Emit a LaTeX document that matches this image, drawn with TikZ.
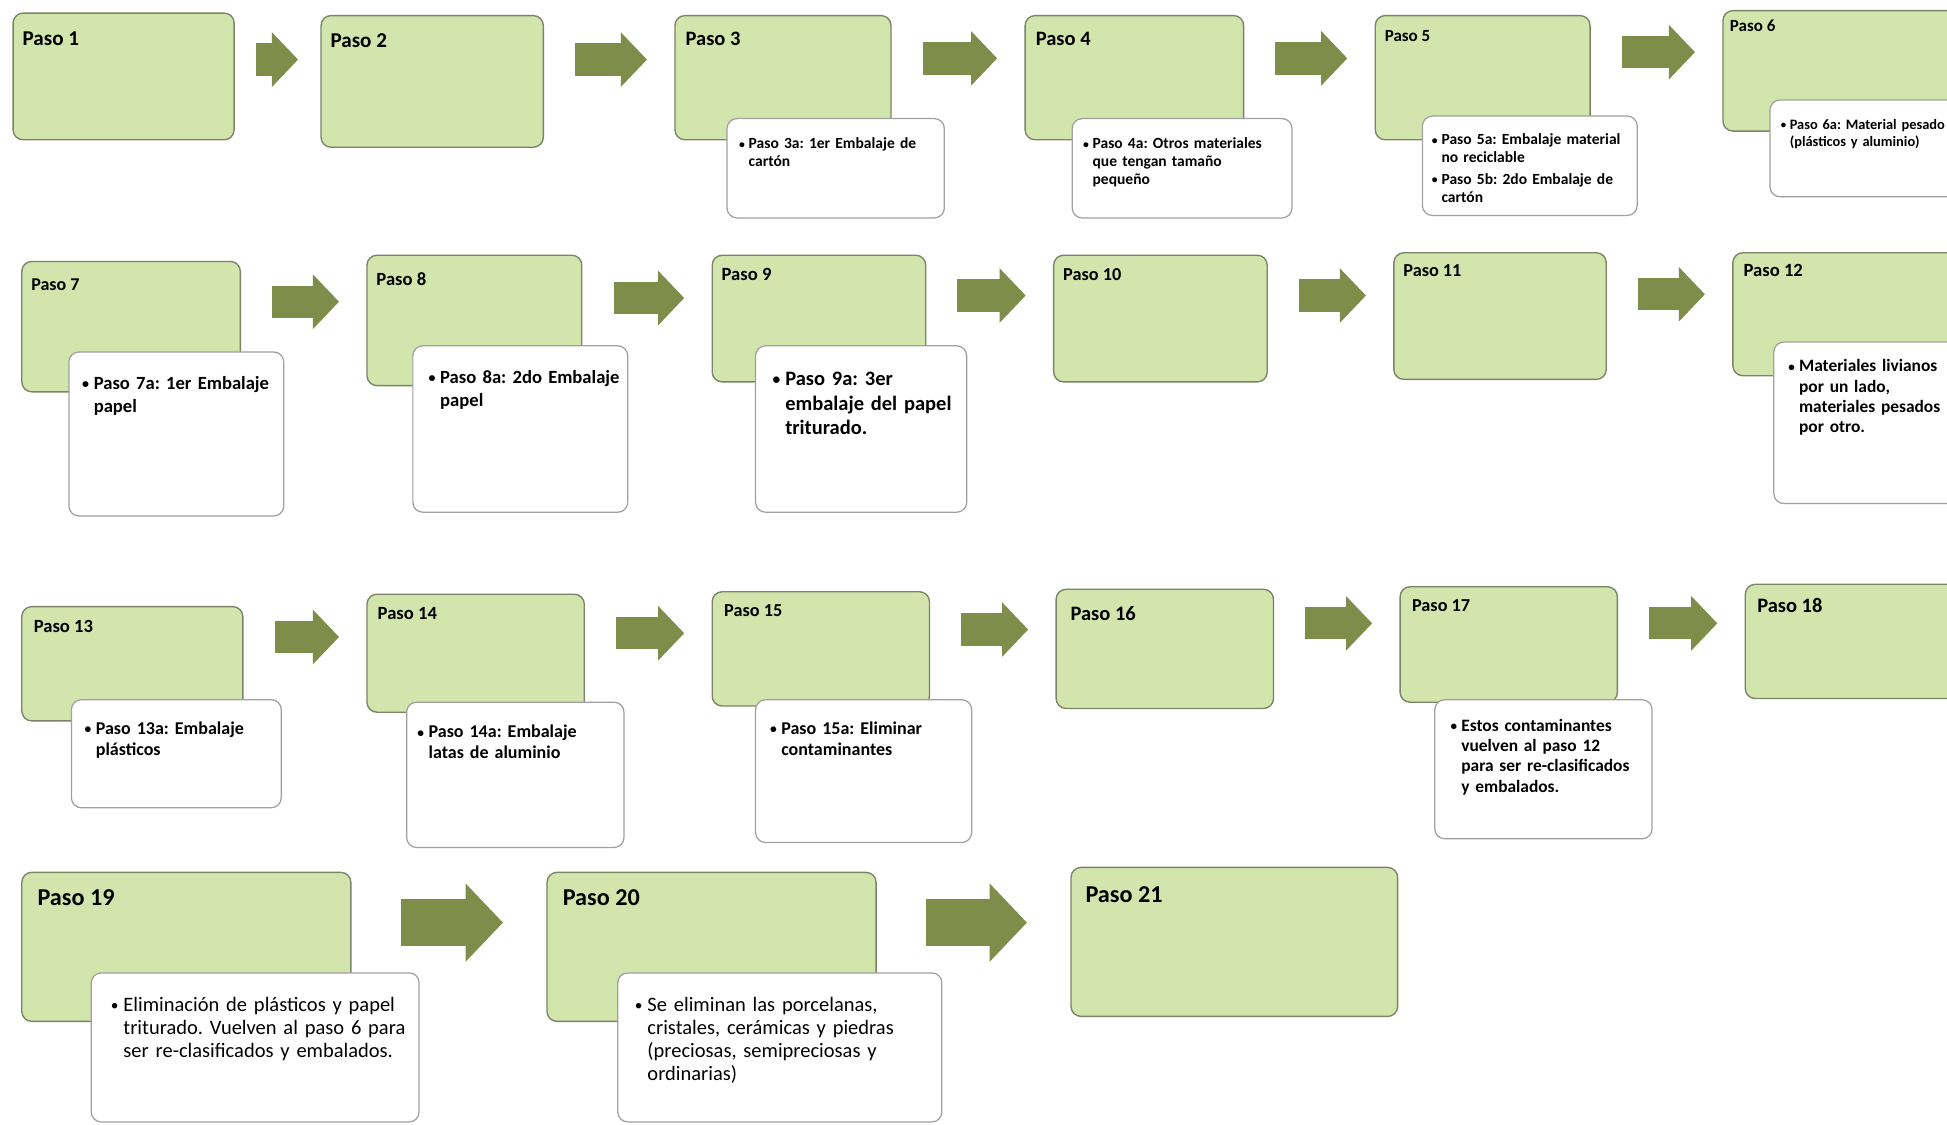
\documentclass[tikz,border=0pt]{standalone}
\usepackage{fontspec}
\setmainfont{Carlito}
\usepackage{graphicx}
\usepackage{tikz}
\usetikzlibrary{calc,arrows.meta}
\definecolor{boxgreen}{HTML}{D2E5AC}
\definecolor{boxline}{HTML}{7A8566}
\definecolor{subline}{HTML}{A0A0A0}
\definecolor{arrgreen}{HTML}{7F8D4A}
\frenchspacing
\newcommand{\itm}[1]{\par\noindent\makebox[0.62em][l]{\raisebox{0.04em}{\scalebox{0.75}{\textbullet}}}\begin{tabular}[t]{@{}l@{}}#1\end{tabular}\par}
\tikzstyle{stepbox}=[draw=boxline,fill=boxgreen,line width=1.1pt,rounded corners=8pt,anchor=north west,inner sep=0pt]
\tikzstyle{subbox}=[draw=subline,fill=white,line width=1pt,rounded corners=8pt,anchor=north west,inner sep=0pt]
\tikzstyle{blockarr}=[draw=arrgreen,line width=26pt,-{Triangle[width=44pt,length=21pt,line width=0pt]},shorten <=25pt,shorten >=22pt]
\tikzstyle{blockbig}=[draw=arrgreen,line width=38pt,-{Triangle[width=63pt,length=30pt,line width=0pt]},shorten <=40pt,shorten >=35pt]
\tikzset{pasolbl/.style={anchor=north west,inner sep=0pt,font=\fontsize{#1}{#1}\selectfont\bfseries},
  subtxt/.style n args={3}{anchor=north west,inner sep=0pt,align=left,text width=#1pt,font=\fontsize{#2}{#3}\selectfont\bfseries}}

\begin{document}
\begin{tikzpicture}[x=1pt,y=-1pt]
\path[fill=white] (0,0) rectangle (1568,906);
\useasboundingbox (0,0) rectangle (1568,906);
% fila 1
\node[stepbox,minimum width=178pt,minimum height=102pt] (p1) at (10,10) {};
\node[stepbox,minimum width=179pt,minimum height=106pt] (p2) at (258,12) {};
\node[stepbox,minimum width=174pt,minimum height=100pt] (p3) at (543,12) {};
\node[stepbox,minimum width=176pt,minimum height=100pt] (p4) at (825,12) {};
\node[stepbox,minimum width=173pt,minimum height=100pt] (p5) at (1107,12) {};
\node[stepbox,minimum width=220pt,minimum height=97pt] (p6) at (1387,8) {};
\node[pasolbl=17] (l1) at ([shift={(8,15)}]p1.north west) {Paso 1};
\node[pasolbl=17] (l2) at ([shift={(8,15)}]p2.north west) {Paso 2};
\node[pasolbl=16.5] (l3) at ([shift={(9,14)}]p3.north west) {Paso 3};
\node[pasolbl=16.5] (l4) at ([shift={(9,14)}]p4.north west) {Paso 4};
\node[pasolbl=13.7] (l5) at ([shift={(8,12)}]p5.north west) {Paso 5};
\node[pasolbl=13.7] (l6) at ([shift={(6,8)}]p6.north west) {Paso 6};
\node[subbox,minimum width=175pt,minimum height=80pt] (s3) at (585,95) {};
\node[subbox,minimum width=177pt,minimum height=80pt] (s4) at (863,95) {};
\node[subbox,minimum width=173pt,minimum height=80pt] (s5) at (1145,93) {};
\node[subbox,minimum width=200pt,minimum height=78pt] (s6) at (1425,80) {};
\node[subtxt={160}{12.5}{14.5}] (t3) at ([shift={(10,10)}]s3.north west) {\itm{Paso 3a: 1er Embalaje de\\cartón}};
\node[subtxt={165}{12.5}{14.5}] (t4) at ([shift={(9,10)}]s4.north west) {\itm{Paso 4a: Otros materiales\\que tengan tamaño\\pequeño}};
\node[subtxt={165}{12.5}{14.5}] (t5) at ([shift={(8,9)}]s5.north west) {\itm{Paso 5a: Embalaje material\\no reciclable}\vspace{1.5pt}\itm{Paso 5b: 2do Embalaje de\\cartón}};
\node[subtxt={135}{11.6}{14}] (t6) at ([shift={(9,10)}]s6.north west) {\itm{Paso 6a: Material pesado\\(plásticos y aluminio)}};
\draw[blockarr,shorten <=17pt,shorten >=18pt] ($(p1.north east)+(0,38)$) -- ($(p1.north east -| p2.west)+(0,38)$);
\draw[blockarr] ($(p2.north east)+(0,36)$) -- ($(p2.north east -| p3.west)+(0,36)$);
\draw[blockarr] ($(p3.north east)+(0,35)$) -- ($(p3.north east -| p4.west)+(0,35)$);
\draw[blockarr] ($(p4.north east)+(0,35)$) -- ($(p4.north east -| p5.west)+(0,35)$);
\draw[blockarr] ($(p5.north east)+(0,30)$) -- ($(p5.north east -| p6.west)+(0,30)$);
% fila 2
\node[stepbox,minimum width=176pt,minimum height=105pt] (p7) at (17,210) {};
\node[stepbox,minimum width=173pt,minimum height=105pt] (p8) at (295,205) {};
\node[stepbox,minimum width=172pt,minimum height=102pt] (p9) at (573,205) {};
\node[stepbox,minimum width=172pt,minimum height=102pt] (p10) at (848,205) {};
\node[stepbox,minimum width=171pt,minimum height=102pt] (p11) at (1122,203) {};
\node[stepbox,minimum width=210pt,minimum height=99pt] (p12) at (1395,203) {};
\node[pasolbl=14.5] (l7) at ([shift={(8,14)}]p7.north west) {Paso 7};
\node[pasolbl=15] (l8) at ([shift={(8,14)}]p8.north west) {Paso 8};
\node[pasolbl=15] (l9) at ([shift={(8,11)}]p9.north west) {Paso 9};
\node[pasolbl=14.7] (l10) at ([shift={(8,11)}]p10.north west) {Paso 10};
\node[pasolbl=14.7] (l11) at ([shift={(8,10)}]p11.north west) {Paso 11};
\node[pasolbl=15] (l12) at ([shift={(9,10)}]p12.north west) {Paso 12};
\node[subbox,minimum width=173pt,minimum height=132pt] (s7) at (55,283) {};
\node[subbox,minimum width=173pt,minimum height=134pt] (s8) at (332,278) {};
\node[subbox,minimum width=170pt,minimum height=134pt] (s9) at (608,278) {};
\node[subbox,minimum width=200pt,minimum height=130pt] (s12) at (1428,275) {};
\node[subtxt={158}{15}{18.5}] (t7) at ([shift={(11,12)}]s7.north west) {\itm{Paso 7a: 1er Embalaje\\papel}};
\node[subtxt={158}{15}{18.5}] (t8) at ([shift={(13,12)}]s8.north west) {\itm{Paso 8a: 2do Embalaje\\papel}};
\node[subtxt={155}{16.5}{19.5}] (t9) at ([shift={(14,13)}]s9.north west) {\itm{Paso 9a: 3er\\embalaje del papel\\triturado.}};
\node[subtxt={135}{14}{16.3}] (t12) at ([shift={(12,8)}]s12.north west) {\itm{Materiales livianos\\por un lado,\\materiales pesados\\por otro.}};
\draw[blockarr] ($(p7.north east)+(0,33)$) -- ($(p7.north east -| p8.west)+(0,33)$);
\draw[blockarr] ($(p8.north east)+(0,35)$) -- ($(p8.north east -| p9.west)+(0,35)$);
\draw[blockarr] ($(p9.north east)+(0,33)$) -- ($(p9.north east -| p10.west)+(0,33)$);
\draw[blockarr] ($(p10.north east)+(0,33)$) -- ($(p10.north east -| p11.west)+(0,33)$);
\draw[blockarr] ($(p11.north east)+(0,34)$) -- ($(p11.north east -| p12.west)+(0,34)$);
% fila 3
\node[stepbox,minimum width=178pt,minimum height=92pt] (p13) at (17,488) {};
\node[stepbox,minimum width=175pt,minimum height=95pt] (p14) at (295,478) {};
\node[stepbox,minimum width=175pt,minimum height=92pt] (p15) at (573,476) {};
\node[stepbox,minimum width=175pt,minimum height=96pt] (p16) at (850,474) {};
\node[stepbox,minimum width=175pt,minimum height=93pt] (p17) at (1127,472) {};
\node[stepbox,minimum width=200pt,minimum height=92pt] (p18) at (1405,470) {};
\node[pasolbl=15] (l13) at ([shift={(10,11)}]p13.north west) {Paso 13};
\node[pasolbl=15] (l14) at ([shift={(9,11)}]p14.north west) {Paso 14};
\node[pasolbl=14.7] (l15) at ([shift={(10,11)}]p15.north west) {Paso 15};
\node[pasolbl=16.5] (l16) at ([shift={(12,14)}]p16.north west) {Paso 16};
\node[pasolbl=14.7] (l17) at ([shift={(10,11)}]p17.north west) {Paso 17};
\node[pasolbl=16.5] (l18) at ([shift={(10,12)}]p18.north west) {Paso 18};
\node[subbox,minimum width=169pt,minimum height=87pt] (s13) at (57,563) {};
\node[subbox,minimum width=175pt,minimum height=117pt] (s14) at (327,565) {};
\node[subbox,minimum width=174pt,minimum height=115pt] (s15) at (608,563) {};
\node[subbox,minimum width=175pt,minimum height=112pt] (s17) at (1155,563) {};
\node[subtxt={155}{14.5}{17}] (t13) at ([shift={(11,11)}]s13.north west) {\itm{Paso 13a: Embalaje\\plásticos}};
\node[subtxt={160}{14.5}{17}] (t14) at ([shift={(9,12)}]s14.north west) {\itm{Paso 14a: Embalaje\\latas de aluminio}};
\node[subtxt={160}{14.5}{17}] (t15) at ([shift={(12,11)}]s15.north west) {\itm{Paso 15a: Eliminar\\contaminantes}};
\node[subtxt={162}{14}{16.5}] (t17) at ([shift={(13,9)}]s17.north west) {\itm{Estos contaminantes\\vuelven al paso 12\\para ser re-clasificados\\y embalados.}};
\draw[blockarr] ($(p13.north east)+(0,25)$) -- ($(p13.north east -| p14.west)+(0,25)$);
\draw[blockarr] ($(p14.north east)+(0,32)$) -- ($(p14.north east -| p15.west)+(0,32)$);
\draw[blockarr] ($(p15.north east)+(0,31)$) -- ($(p15.north east -| p16.west)+(0,31)$);
\draw[blockarr] ($(p16.north east)+(0,28)$) -- ($(p16.north east -| p17.west)+(0,28)$);
\draw[blockarr] ($(p17.north east)+(0,30)$) -- ($(p17.north east -| p18.west)+(0,30)$);
% fila 4
\node[stepbox,minimum width=265pt,minimum height=120pt] (p19) at (17,702) {};
\node[stepbox,minimum width=265pt,minimum height=120pt] (p20) at (440,702) {};
\node[stepbox,minimum width=263pt,minimum height=120pt] (p21) at (862,698) {};
\node[pasolbl=19.5] (l19) at ([shift={(13,14)}]p19.north west) {Paso 19};
\node[pasolbl=19.5] (l20) at ([shift={(13,14)}]p20.north west) {Paso 20};
\node[pasolbl=19.5] (l21) at ([shift={(12,16)}]p21.north west) {Paso 21};
\node[subbox,minimum width=264pt,minimum height=120pt] (s19) at (73,783) {};
\node[subbox,minimum width=261pt,minimum height=120pt] (s20) at (497,783) {};
\node[subtxt={245}{16.5}{18.5},font=\fontsize{16.5}{18.5}\selectfont] (t19) at ([shift={(16,13)}]s19.north west) {\itm{Eliminación de plásticos y papel\\triturado. Vuelven al paso 6 para\\ser re-clasificados y embalados.}};
\node[subtxt={245}{16.5}{18.5},font=\fontsize{16.5}{18.5}\selectfont] (t20) at ([shift={(14,13)}]s20.north west) {\itm{Se eliminan las porcelanas,\\cristales, cerámicas y piedras\\(preciosas, semipreciosas y\\ordinarias)}};
\draw[blockbig] ($(p19.north east)+(0,41)$) -- ($(p19.north east -| p20.west)+(0,41)$);
\draw[blockbig] ($(p20.north east)+(0,41)$) -- ($(p20.north east -| p21.west)+(0,41)$);
\end{tikzpicture}
\end{document}
